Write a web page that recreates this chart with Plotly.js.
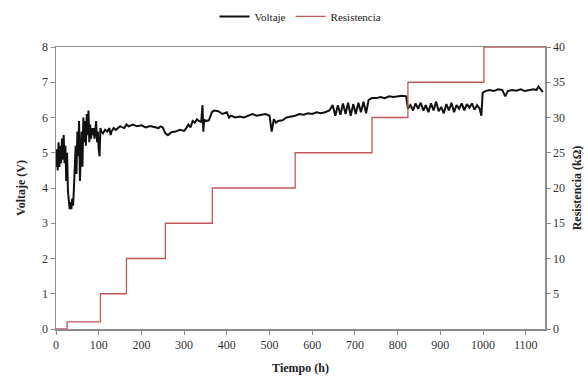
<!DOCTYPE html>
<html><head><meta charset="utf-8">
<script src="https://cdn.plot.ly/plotly-3.0.1.min.js"></script>
<style>html,body{margin:0;padding:0;background:#fff}#chart{width:588px;height:386px}</style>
</head><body><div id="chart"></div>
<script>
const tiempoV = [0,2,4,6,8,10,12,14,16,18,20,22,24,26,28,30,32,34,36,38,40,42,44,46,48,50,52,54,56,58,60,62,64,66,68,70,72,74,76,78,80,82,84,86,88,90,94,96,98,100,102,104,106,110,115,120,125,128,130,135,140,150,160,165,170,180,190,200,210,220,230,240,245,250,256,262,270,280,290,300,305,310,315,320,325,330,335,340,343,345,347,350,358,365,370,380,390,400,405,410,420,430,440,450,460,470,480,490,500,505,510,515,520,530,540,550,560,570,580,590,600,610,620,630,640,648,654,660,666,672,678,684,690,696,702,708,714,720,726,732,740,750,760,770,780,790,800,810,820,824,830,836,842,848,854,860,866,872,878,884,890,896,902,908,914,920,926,932,938,944,950,956,962,968,974,980,986,992,996,999,1005,1015,1025,1035,1045,1052,1058,1068,1078,1088,1098,1108,1118,1125,1130,1135,1140];
const voltaje = [4.6,5.1,4.5,5.3,4.6,5.2,4.7,5.4,4.8,5.5,4.7,5.2,4.2,5.0,3.9,3.6,3.4,3.6,3.4,3.7,3.5,4.0,4.6,5.2,4.4,5.6,4.9,5.9,4.2,5.0,5.6,4.6,6.0,5.3,5.9,5.2,6.1,5.5,6.2,5.3,5.8,5.4,5.7,5.5,5.7,5.4,5.9,5.3,5.6,5.1,4.9,5.7,5.6,5.55,5.65,5.6,5.7,5.5,5.6,5.7,5.65,5.75,5.7,5.8,5.75,5.8,5.75,5.78,5.72,5.76,5.74,5.7,5.75,5.72,5.55,5.5,5.58,5.6,5.65,5.62,5.7,5.8,5.72,5.9,5.85,5.95,5.9,5.88,6.35,5.6,5.95,5.9,5.92,6.15,6.2,6.18,6.1,6.15,6.0,6.05,6.0,6.03,6.0,6.05,6.1,6.05,6.08,6.1,6.05,5.6,5.95,5.85,5.9,5.92,6.0,6.02,6.05,6.1,6.08,6.12,6.1,6.15,6.12,6.15,6.2,6.35,6.05,6.35,6.08,6.4,6.1,6.42,6.05,6.38,6.1,6.42,6.15,6.45,6.12,6.5,6.55,6.55,6.58,6.55,6.6,6.58,6.6,6.62,6.6,6.25,6.35,6.2,6.4,6.25,6.42,6.2,6.35,6.15,6.4,6.2,6.45,6.18,6.3,6.12,6.38,6.2,6.42,6.15,6.35,6.25,6.4,6.2,6.38,6.28,6.4,6.22,6.35,6.25,6.05,6.7,6.75,6.78,6.75,6.8,6.78,6.6,6.75,6.78,6.76,6.8,6.75,6.78,6.8,6.78,6.88,6.8,6.72];
const tiempoR = [0,26,104,165,256,366,560,740,824,1002,1145];
const resistencia = [0,1,5,10,15,20,25,30,35,40,40];

const serif = 'Liberation Serif, Times New Roman, serif';
const axisCol = '#8c8c8c';
const traces = [
  {x: tiempoV, y: voltaje, name: 'Voltaje', type: 'scatter', mode: 'lines',
   line: {color: '#111111', width: 2}, yaxis: 'y'},
  {x: tiempoR, y: resistencia, name: 'Resistencia', type: 'scatter', mode: 'lines',
   line: {color: '#c0585c', width: 1.3, shape: 'hv'}, yaxis: 'y2'}
];
const layout = {
  width: 588, height: 386,
  margin: {l: 56, r: 43, t: 47, b: 57},
  paper_bgcolor: '#fff', plot_bgcolor: '#fff',
  font: {family: serif, size: 12, color: '#333'},
  showlegend: true,
  legend: {orientation: 'h', x: 0.5, xanchor: 'center', y: 0.995, yref: 'container', yanchor: 'top',
           font: {family: serif, size: 11, color: '#222'}, itemwidth: 30, tracegroupgap: 0},
  xaxis: {range: [0, 1145], dtick: 100, tick0: 0, showgrid: false, zeroline: false,
          showline: true, linecolor: axisCol, linewidth: 1.5, mirror: true,
          ticks: 'outside', ticklen: 4, tickcolor: axisCol,
          title: {text: '<b>Tiempo (h)</b>', font: {family: serif, size: 12, color: '#222'}, standoff: 12}},
  yaxis: {range: [0, 8], dtick: 1, showgrid: false, zeroline: false,
          showline: true, linecolor: axisCol, linewidth: 1.5,
          ticks: 'outside', ticklen: 4, tickcolor: axisCol,
          title: {text: '<b>Voltaje (V)</b>', font: {family: serif, size: 12, color: '#222'}, standoff: 14}},
  yaxis2: {range: [0, 40], dtick: 5, overlaying: 'y', side: 'right', showgrid: false, zeroline: false,
           showline: true, linecolor: axisCol, linewidth: 1.5,
           ticks: 'outside', ticklen: 4, tickcolor: axisCol,
           title: {text: '<b>Resistencia (kΩ)</b>', font: {family: serif, size: 12, color: '#222'}, standoff: 8}}
};
Plotly.newPlot('chart', traces, layout, {displayModeBar: false, staticPlot: true});
</script></body></html>
